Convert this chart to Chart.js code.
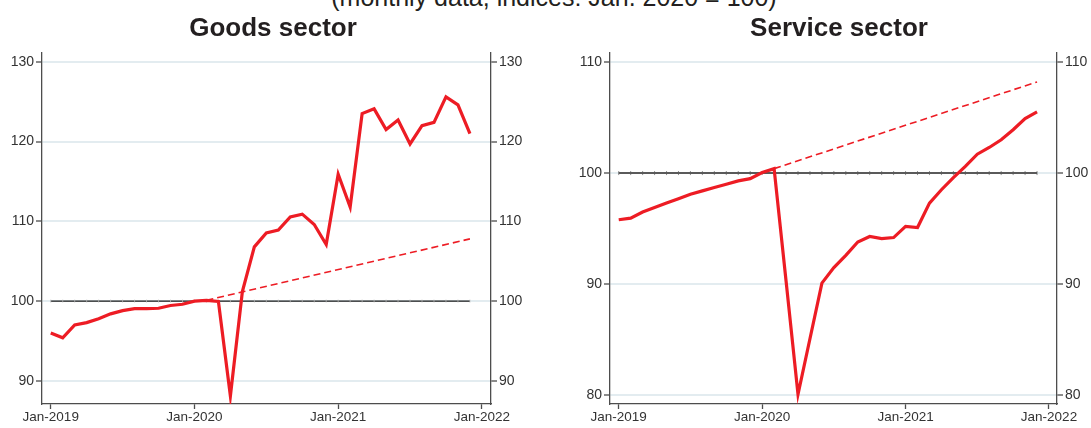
<!DOCTYPE html>
<html>
<head>
<meta charset="utf-8">
<script src="https://cdn.jsdelivr.net/npm/chart.js@4"></script>
<style>
  body { margin: 0; background: #fff; font-family: "Liberation Sans", Arial, sans-serif; }
  #wrap { position: relative; width: 1091px; height: 428px; overflow: hidden; }
  .box { position: absolute; top: 0; height: 428px; }
  .title { position: absolute; font-weight: bold; font-size: 26px; color: #231f20; white-space: nowrap; transform: translateX(-50%); top: 12px; }
  #sub { position: absolute; font-size: 25px; color: #231f20; white-space: nowrap; transform: translateX(-50%); left: 554px; top: -17px; }
</style>
</head>
<body>
<div id="wrap">
  <div id="sub">(monthly data, indices: Jan. 2020 = 100)</div>
  <div class="box" style="left:0;width:545px"><canvas id="goods"></canvas></div>
  <div class="box" style="left:545px;width:546px"><canvas id="services"></canvas></div>
  <div class="title" style="left:273px">Goods sector</div>
  <div class="title" style="left:839px">Service sector</div>
</div>
<script>
// months counted from Jan-2019 (0) to Dec-2021 (35)
const months = Array.from({ length: 36 }, (_, i) => i);
const xTickLabels = ['Jan-2019', 'Jan-2020', 'Jan-2021', 'Jan-2022'];
const xTickValues = [0, 12, 24, 36];

const goods = [96.0, 95.4, 97.0, 97.3, 97.8, 98.4, 98.8, 99.05, 99.05, 99.1, 99.45, 99.6,
               100.0, 100.1, 99.95, 88.1, 101.2, 106.8, 108.55, 108.9, 110.55, 110.9, 109.6, 107.1,
               115.9, 111.8, 123.5, 124.1, 121.5, 122.7, 119.7, 122.0, 122.4, 125.6, 124.6, 121.0];
const services = [95.8, 95.95, 96.5, 96.9, 97.3, 97.7, 98.1, 98.4, 98.7, 99.0, 99.3, 99.5,
                  100.05, 100.4, 90.3, 80.1, 85.1, 90.1, 91.5, 92.6, 93.8, 94.3, 94.1, 94.2,
                  95.2, 95.1, 97.3, 98.5, 99.6, 100.6, 101.7, 102.3, 103.0, 103.9, 104.9, 105.5];

// pre-crisis trend lines: start and end points
const goodsTrendX = [13, 35];
const goodsTrend = [100.1, 107.8];
const servicesTrendX = [13, 35];
const servicesTrend = [100.4, 108.2];

const goodsTicks = [90, 100, 110, 120, 130];
const servicesTicks = [80, 90, 100, 110];
const refLevel = 100;

const RED = '#ed1c24';
const AXIS = '#4d4d4d';
const GRID = '#e3ecf0';

function makeChart(id, values, trendX, trend, yTicks, yMin, yMax, opt) {
    const yAxis = (pos, w) => ({
        type: 'linear',
        position: pos,
        min: yMin,
        max: yMax,
        afterBuildTicks: s => { s.ticks = yTicks.map(v => ({ value: v })); },
        afterFit: s => { s.width = w; },
        border: { display: true, color: AXIS, width: 1.3 },
        grid: {
            display: true,
            drawOnChartArea: pos === 'left',
            color: GRID,
            lineWidth: 2,
            tickColor: AXIS,
            tickWidth: 1.3,
            tickLength: 6
        },
        ticks: { color: '#333', padding: 2, font: { family: 'Liberation Sans', size: 14 } }
    });

    return new Chart(document.getElementById(id), {
        type: 'line',
        data: {
            datasets: [
                {
                    // reference line at 100
                    data: months.map(m => ({ x: m, y: refLevel })),
                    borderColor: opt.refColor,
                    borderWidth: opt.refWidth,
                    pointStyle: 'line',
                    rotation: 90,
                    pointRadius: opt.refTick,
                    pointBorderWidth: 0.7,
                    pointBorderColor: opt.refTickColor,
                    order: 3
                },
                {
                    data: trendX.map((x, i) => ({ x: x, y: trend[i] })),
                    borderColor: RED,
                    borderWidth: 1.6,
                    borderDash: [7, 4],
                    pointRadius: 0,
                    order: 2
                },
                {
                    data: months.map((m, i) => ({ x: m, y: values[i] })),
                    borderColor: RED,
                    borderWidth: 3.2,
                    pointRadius: 0,
                    order: 1
                }
            ]
        },
        options: {
            responsive: false,
            animation: false,
            devicePixelRatio: 1,
            layout: { padding: { top: 53, left: 0, right: 0, bottom: 0 } },
            plugins: { legend: { display: false }, tooltip: { enabled: false } },
            elements: { line: { tension: 0 } },
            scales: {
                x: {
                    type: 'linear',
                    min: -0.73,
                    max: opt.xMax,
                    afterBuildTicks: s => { s.ticks = xTickValues.map(v => ({ value: v })); },
                    afterFit: s => { s.height = 24; },
                    border: { display: true, color: AXIS, width: 1.3 },
                    grid: { drawOnChartArea: false, tickColor: AXIS, tickWidth: 1.3, tickLength: 5 },
                    ticks: {
                        color: '#333', padding: 0, maxRotation: 0,
                        font: { family: 'Liberation Sans', size: 13.5 },
                        callback: (v) => xTickLabels[xTickValues.indexOf(v)]
                    }
                },
                y: yAxis('left', opt.leftW),
                y2: yAxis('right', opt.rightW)
            }
        }
    });
}

function sizeCanvas(id, w) {
    const c = document.getElementById(id);
    c.width = w; c.height = 428;
    c.style.width = w + 'px'; c.style.height = '428px';
}
sizeCanvas('goods', 545);
sizeCanvas('services', 546);

makeChart('goods', goods, goodsTrendX, goodsTrend, goodsTicks, 87.1, 131.1,
    { leftW: 42, rightW: 54, xMax: 36.76, refColor: '#1a1a1a', refWidth: 1.2, refTick: 1.5, refTickColor: '#bbbbbb' });
makeChart('services', services, servicesTrendX, servicesTrend, servicesTicks, 79.23, 110.8,
    { leftW: 65, rightW: 34, xMax: 36.67, refColor: '#5a5a5a', refWidth: 2, refTick: 2, refTickColor: '#5a5a5a' });
</script>
</body>
</html>
